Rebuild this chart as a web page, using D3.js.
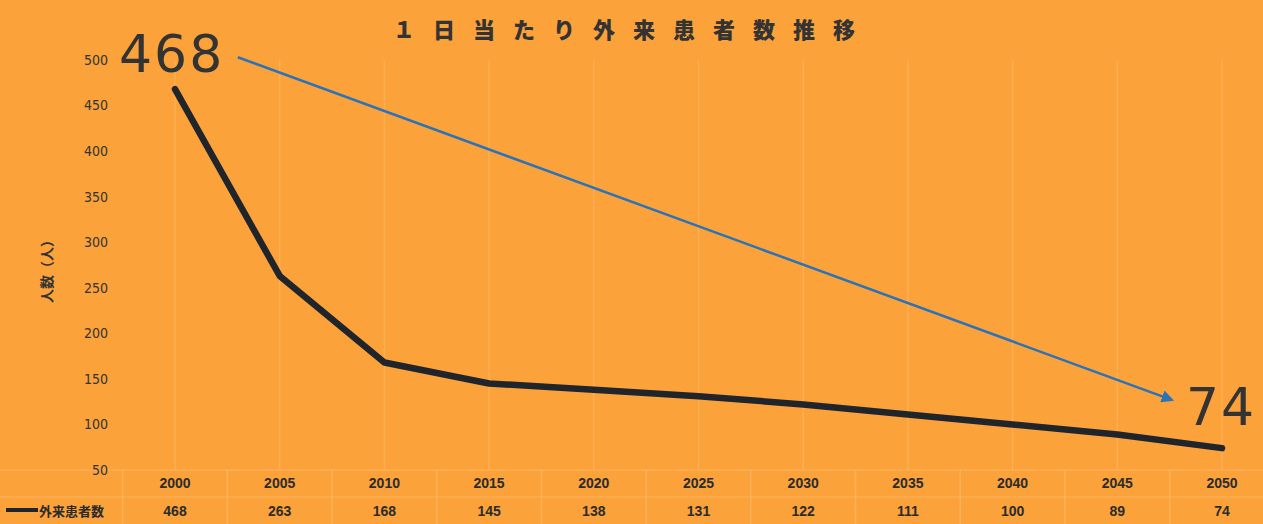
<!DOCTYPE html>
<html>
<head>
<meta charset="utf-8">
<script src="https://cdn.jsdelivr.net/npm/d3@7"></script>
<style>
  body { margin: 0; background: #FAA33B; }
  svg { display: block; }
  .tick-label { font-family: "Liberation Sans Narrow", "DejaVu Sans Condensed", sans-serif; font-size: 14px; fill: #333; }
  .table-text { font-family: "Liberation Sans Narrow", sans-serif; font-size: 14px; font-weight: bold; fill: #2b2b2b; }
</style>
</head>
<body>
<script>
// data
var years = [2000, 2005, 2010, 2015, 2020, 2025, 2030, 2035, 2040, 2045, 2050];
var patients = [468, 263, 168, 145, 138, 131, 122, 111, 100, 89, 74];
var yTicks = [50, 100, 150, 200, 250, 300, 350, 400, 450, 500];
var seriesName = "外来患者数";
var chartTitle = "１日当たり外来患者数推移";
var yTitle = "人数（人）";
// trend arrow, in (year, value) units
var arrowFrom = [2003, 503];
var arrowTo = [2047.6, 127];

var width = 1263, height = 524;

let svg = d3.select("body").append("svg")
    .attr("width", width)
    .attr("height", height);

svg.append("rect")
    .attr("width", width)
    .attr("height", height)
    .attr("fill", "#FBA23A");

// scales
var x = d3.scaleLinear()
    .domain([2000, 2050])
    .range([175, 1222]);

var y = d3.scaleLinear()
    .domain([50, 500])
    .range([470, 60]);

var step = x(2005) - x(2000);

// faint vertical grid at categories
svg.selectAll(".vgrid")
    .data(years)
    .enter().append("line")
    .attr("class", "vgrid")
    .attr("x1", d => x(d)).attr("x2", d => x(d))
    .attr("y1", y(500)).attr("y2", y(50))
    .attr("stroke", "#FFD49A")
    .attr("stroke-opacity", 0.25)
    .attr("stroke-width", 1.5);

// table grid
var tableTop = y(50), tableMid = 497, tableBottom = 524;
svg.selectAll(".tgrid")
    .data(years.concat([2055]))
    .enter().append("line")
    .attr("class", "tgrid")
    .attr("x1", d => x(d) - step / 2).attr("x2", d => x(d) - step / 2)
    .attr("y1", tableTop).attr("y2", tableBottom)
    .attr("stroke", "#FFD49A")
    .attr("stroke-opacity", 0.3)
    .attr("stroke-width", 1.5);

[tableTop, tableMid].forEach(function(ty) {
    svg.append("line")
        .attr("x1", 0).attr("x2", width)
        .attr("y1", ty).attr("y2", ty)
        .attr("stroke", "#FFD49A")
        .attr("stroke-opacity", 0.25)
        .attr("stroke-width", 1.5);
});

// y axis labels
svg.selectAll(".ytick")
    .data(yTicks)
    .enter().append("text")
    .attr("class", "tick-label")
    .attr("x", 108)
    .attr("y", d => y(d))
    .attr("dy", "0.35em")
    .attr("text-anchor", "end")
    .text(d => d);

// y title
svg.append("text")
    .attr("transform", "translate(52, 268) rotate(-90)")
    .attr("text-anchor", "middle")
    .attr("font-family", "'Noto Sans CJK JP', sans-serif")
    .attr("font-size", 14)
    .attr("font-weight", "bold")
    .attr("fill", "#333")
    .text(yTitle);

// title
svg.append("text")
    .attr("x", 633)
    .attr("y", 38)
    .attr("text-anchor", "middle")
    .attr("font-family", "'Noto Sans CJK JP', sans-serif")
    .attr("font-size", 22)
    .attr("font-weight", "900")
    .attr("letter-spacing", 18)
    .attr("fill", "#333")
    .text(chartTitle);

// arrow
var defs = svg.append("defs");
defs.append("marker")
    .attr("id", "arrowhead")
    .attr("viewBox", "0 0 10 10")
    .attr("refX", 8).attr("refY", 5)
    .attr("markerWidth", 5).attr("markerHeight", 5)
    .attr("orient", "auto")
    .append("path")
    .attr("d", "M0,0 L10,5 L0,10 z")
    .attr("fill", "#2A73B8");

svg.append("line")
    .attr("x1", x(arrowFrom[0])).attr("y1", y(arrowFrom[1]))
    .attr("x2", x(arrowTo[0])).attr("y2", y(arrowTo[1]))
    .attr("stroke", "#2A73B8")
    .attr("stroke-width", 2.5)
    .attr("marker-end", "url(#arrowhead)");

// main line
var line = d3.line()
    .x((d, i) => x(years[i]))
    .y(d => y(d));

svg.append("path")
    .datum(patients)
    .attr("d", line)
    .attr("fill", "none")
    .attr("stroke", "#1f252b")
    .attr("stroke-width", 6.5)
    .attr("stroke-linejoin", "round")
    .attr("stroke-linecap", "round");

// big callouts
svg.append("text")
    .attr("x", x(2000) - 56)
    .attr("y", 72)
    .attr("font-family", "'DejaVu Sans', sans-serif")
    .attr("font-size", 52)
    .attr("letter-spacing", 2)
    .attr("fill", "#333")
    .text(patients[0]);

svg.append("text")
    .attr("x", 1186)
    .attr("y", 425)
    .attr("font-family", "'DejaVu Sans', sans-serif")
    .attr("font-size", 52)
    .attr("letter-spacing", 2)
    .attr("fill", "#333")
    .text(patients[patients.length - 1]);

// table rows
svg.selectAll(".yearlabel")
    .data(years)
    .enter().append("text")
    .attr("class", "table-text")
    .attr("x", d => x(d))
    .attr("y", 483)
    .attr("dy", "0.35em")
    .attr("text-anchor", "middle")
    .text(d => d);

svg.selectAll(".valuelabel")
    .data(patients)
    .enter().append("text")
    .attr("class", "table-text")
    .attr("x", (d, i) => x(years[i]))
    .attr("y", 511)
    .attr("dy", "0.35em")
    .attr("text-anchor", "middle")
    .text(d => d);

// legend key
svg.append("line")
    .attr("x1", 6).attr("x2", 38)
    .attr("y1", 510).attr("y2", 510)
    .attr("stroke", "#1f252b")
    .attr("stroke-width", 4);

svg.append("text")
    .attr("x", 39)
    .attr("y", 511)
    .attr("dy", "0.35em")
    .attr("font-family", "'Noto Sans CJK JP', sans-serif")
    .attr("font-size", 13)
    .attr("font-weight", "bold")
    .attr("fill", "#2b2b2b")
    .text(seriesName);
</script>
</body>
</html>
